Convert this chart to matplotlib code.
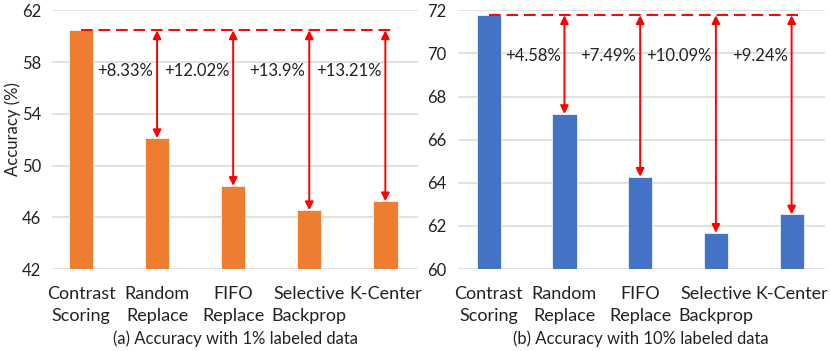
import numpy as np
import matplotlib.pyplot as plt

# Data
methods = ['Contrast\nScoring', 'Random\nReplace', 'FIFO\nReplace', 'Selective\nBackprop', 'K-Center']
acc_1pct = [60.45, 52.12, 48.43, 46.55, 47.24]
acc_10pct = [71.77, 67.19, 64.28, 61.68, 62.53]
gain_1pct = ['+8.33%', '+12.02%', '+13.9%', '+13.21%']
gain_10pct = ['+4.58%', '+7.49%', '+10.09%', '+9.24%']
captions = ['(a) Accuracy with 1% labeled data', '(b) Accuracy with 10% labeled data']

plt.rcParams['font.family'] = ['Lato', 'DejaVu Sans']

fig = plt.figure(figsize=(8.3, 3.51), dpi=100)
ax1 = fig.add_axes([0.0627, 0.2336, 0.441, 0.737])
ax2 = fig.add_axes([0.5514, 0.2336, 0.4425, 0.737])


def draw_panel(ax, vals, gains, color, ylim, yticks, text_y, caption, xlim):
    x = np.arange(len(vals))
    ax.bar(x, np.array(vals) - ylim[0], bottom=ylim[0], width=0.32, color=color,
           edgecolor='white', linewidth=0.5, zorder=2)
    ax.set_ylim(*ylim)
    ax.set_xlim(*xlim)
    ax.set_yticks(yticks)
    ax.set_xticks(x)
    ax.set_xticklabels(methods, fontsize=13, linespacing=1.45)
    ax.tick_params(axis='both', length=0, colors='#222222')
    ax.tick_params(axis='y', labelsize=12, pad=8)
    ax.tick_params(axis='x', pad=12)
    for s in ax.spines.values():
        s.set_visible(False)
    ax.yaxis.grid(True, color='#D9D9D9', linewidth=1.1, zorder=0)
    ax.set_axisbelow(True)

    top = vals[0]
    ax.plot([0, 4.08], [top, top], color='red', linestyle=(0, (6, 3)), linewidth=1.4, zorder=3)
    for i in range(1, len(vals)):
        ax.annotate('', xy=(i, vals[i]), xytext=(i, top),
                    arrowprops=dict(arrowstyle='<|-|>', color='red', lw=1.4,
                                    mutation_scale=12, shrinkA=0, shrinkB=0), zorder=4)
        ax.text(i - 0.05, text_y, gains[i - 1], ha='right', va='center',
                fontsize=12, color='#222222')
    ax.set_xlabel(caption, fontsize=12, color='#222222', labelpad=5)


draw_panel(ax1, acc_1pct, gain_1pct, '#ED7D31', (42, 62), [42, 46, 50, 54, 58, 62],
           57.3, captions[0], (-0.38, 4.43))
draw_panel(ax2, acc_10pct, gain_10pct, '#4472C4', (60, 72), [60, 62, 64, 66, 68, 70, 72],
           69.9, captions[1], (-0.41, 4.44))
ax1.set_ylabel('Accuracy (%)', fontsize=12, color='#222222')
ax1.yaxis.set_label_coords(-0.085, 0.54)

fig.savefig('out.png', dpi=100)
